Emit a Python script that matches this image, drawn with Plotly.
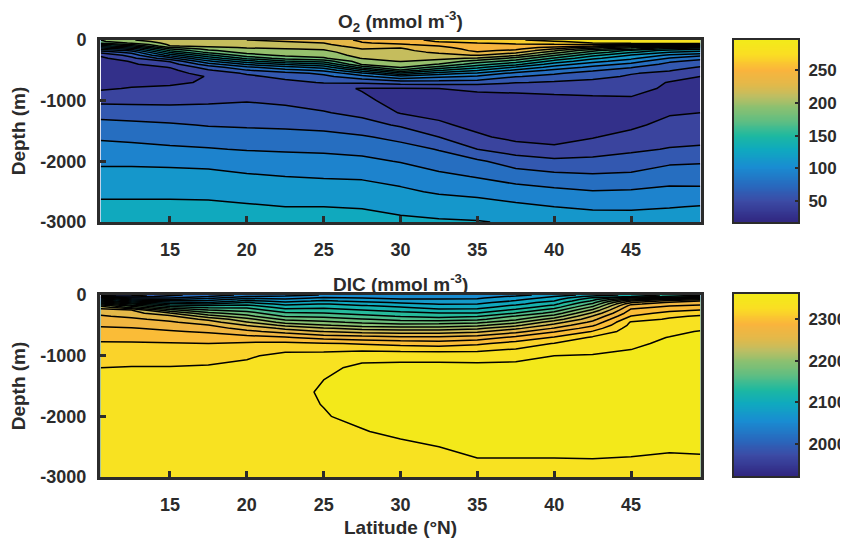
import plotly.graph_objects as go
import numpy as np

latitudes = [10.5, 12.5, 15, 17.5, 20, 22.5, 25, 27.5, 30, 32.5, 35, 37.5, 40, 42.5, 45, 47.5, 49.5]
depths = [0, 25, 50, 75, 100, 125, 150, 175, 200, 250, 300, 350, 400, 450, 500, 550, 600, 700,
          800, 1000, 1200, 1400, 1600, 1800, 2000, 2250, 2500, 2750, 3000]

o2_105 = [188,186,175,150,130,110,90,72,58,38,31,28,26,25,25,25,26,29,33,48,63,74,83,94,100,109,116,124,132]
o2_125 = [204,198,190,172,150,128,108,90,75,58,48,36,33,29,27,26,26,31,36,48,61,73,82,91,100,109,116,124,132]
o2_150 = [214,212,210,208,204,186,170,155,140,110,80,54,44,35.5,31,28,27,32,38,48,59,71,79,89,99,109,116,124,132]
o2_175 = [218,216,214,212,208,202,193,185,176,150,125,100,78,60,50,42,36,37,41,49,60,68,78,87,98,108,115,124,131]
o2_200 = [222,220,218,215,212,206,202,198,194,180,158,131,105,82,68,54,49,44,44,51,60,67,76,85,95,105,113,122,130]
o2_225 = [224,222,220,218,214,209,204,201,198,192,178,152,122,97,79,64,56,48,42,49,57,66,75,84,93,103,112,120,129]
o2_250 = [226,224,222,219,215,210,207,203,199,194,186,161,134,109,90,72,65,53,40,46,53,64,74,83,92,102,110,120,128]
o2_275 = [243,240,238,234,230,226,222,219,217,212,206,198,190,162,128,99,80,55,34,38,48,58,71,81,90,101,110,119,127]
o2_300 = [250,247,242,237,231,223,220,218,216,213,210,206,198,190,168,133,100,59,34,30,34,50,64,76,85,97,106,115,124]
o2_325 = [260,257,252,245,239,235,232,229,225,217,209,199,187,164,139,112,90,61,35,30,30,38,52,68,78,90,101,113,122]
o2_350 = [264,260,256,253,250,247,244,242,238,223,203,181,162,142,121,100,84,60,37,30,28,30,38,52,72,85,98,111,121]
o2_375 = [270,264,259,254,250,246,242,236,227,208,183,163,142,118,100,81,70,53,38,30,27,27,30,44,60,79,93,107,118]
o2_400 = [282,270,263,255,246,234,221,208,196,173,152,131,112,97,82,71,64,50,39,31,27,26,28,39,56,74,90,103,116]
o2_425 = [288,282,273,255,239,212,193,175,164,142,124,109,94,82,71,63,57,47,41,31,27,28,34,45,56,72,87,100,114]
o2_450 = [289,288,280,248,216,190,175,150,140,119,107,94,82,70,62,53,50,44,43,31,28,31,41,49,59,73,88,100,113]
o2_475 = [289,288,282,252,212,170,146,131,120,100,85,72,64,58,53,48,42,34,31,28,33,41,46,53,65,81,89,102,115]
o2_495 = [289,289,283,250,200,160,138,125,115,91,75,64,56,51,46,41,35,32,30,30,35,41,48,54,67,79,90,104,116]

dic_105 = [1955,2000,2065,2097,2125,2157,2187,2218,2237,2251,2260,2267,2272,2278,2283,2287,2290,2300,2307,2316,2325,2330,2333,2336,2338,2340,2341,2342,2342]
dic_125 = [1975,1995,2025,2058,2085,2117,2146,2173,2197,2246,2254,2261,2269,2274,2280,2286,2289,2299,2307,2316,2326,2330,2334,2337,2339,2340,2341,2342,2342]
dic_150 = [2000,2012,2025,2046,2068,2093,2113,2133,2153,2193,2227,2250,2259,2268,2274,2281,2287,2298,2306,2317,2326,2331,2335,2338,2340,2341,2342,2343,2343]
dic_175 = [2015,2025,2040,2056,2070,2086,2106,2126,2139,2167,2191,2215,2240,2254,2266,2274,2282,2295,2305,2318,2327,2333,2336,2339,2341,2342,2343,2344,2344]
dic_200 = [2030,2045,2060,2076,2090,2106,2119,2129,2140,2157,2175,2191,2212,2227,2244,2258,2270,2292,2308,2322,2331,2336,2338,2340,2342,2343,2344,2344,2344]
dic_225 = [2038,2048,2058,2069,2079,2089,2099,2108,2117,2133,2148,2163,2180,2198,2220,2241,2257,2287,2310,2331,2337,2340,2342,2343,2343.5,2344,2344,2344,2344]
dic_250 = [2046,2057,2068,2080,2088,2097,2106,2113,2120,2134,2146,2159,2175,2190,2207,2227,2244,2277,2307,2333,2341,2345,2346,2345.2,2344.5,2344,2344,2344,2344]
dic_275 = [2050,2058,2065,2073,2080,2090,2099,2106,2113,2126,2139,2151,2167,2181,2197,2219,2237,2273,2303,2339,2349,2350,2350,2349,2347,2344.5,2343,2342,2342]
dic_300 = [2048,2054,2060,2068,2075,2083,2091,2099,2106,2119,2130,2144,2158,2175,2194,2214,2234,2269,2298,2339,2350,2351,2352,2351,2349,2347,2343,2341,2341]
dic_325 = [2052,2057,2062,2067,2073,2080,2084,2090,2096,2110,2126,2138,2155,2176,2194,2214,2234,2269,2295,2339,2350,2353,2354,2353,2351,2348,2345,2342,2341]
dic_350 = [2055,2060,2063,2067,2072,2079,2085,2091,2098,2111,2126,2143,2160,2180,2200,2221,2241,2274,2301,2338,2350,2353,2354,2354,2353,2351,2348,2344,2342]
dic_375 = [2060,2067,2074,2081,2087,2095,2100,2108,2115,2130,2146,2167,2181,2200,2220,2241,2258,2290,2313,2340,2350,2352,2354,2354,2353,2351,2348,2344,2342]
dic_400 = [2072,2085,2092,2099,2105,2114,2120,2128,2136,2155,2173,2193,2214,2236,2252,2267,2283,2307,2326,2345,2350,2352,2353,2353,2352,2350,2348,2344,2342]
dic_425 = [2095,2112,2128,2139,2148,2159,2169,2179,2189,2210,2229,2246,2258,2270,2282,2295,2306,2328,2336,2346,2349,2351,2352,2351,2350,2349,2347,2344.5,2343]
dic_450 = [2110,2125,2165,2197,2225,2244,2261,2272,2279,2289,2297,2306,2317,2327,2330,2334,2336,2340,2343,2347,2349,2350,2351,2351,2350,2349,2347,2344,2343]
dic_475 = [2130,2150,2185,2228,2252,2268,2275,2283,2289,2300,2311,2322,2327,2331,2335,2339,2341,2345.5,2347,2349,2350,2351,2351,2350,2349,2347,2346,2343.5,2342.5]
dic_495 = [2140,2165,2205,2243,2265,2273,2281,2287,2294,2306,2319,2327,2331,2335,2338,2342,2346,2347,2348,2349,2350,2350,2350,2349,2348,2347,2346,2344,2343]

o2_columns = [o2_105,o2_125,o2_150,o2_175,o2_200,o2_225,o2_250,o2_275,o2_300,o2_325,o2_350,o2_375,o2_400,o2_425,o2_450,o2_475,o2_495]
dic_columns = [dic_105,dic_125,dic_150,dic_175,dic_200,dic_225,dic_250,dic_275,dic_300,dic_325,dic_350,dic_375,dic_400,dic_425,dic_450,dic_475,dic_495]

lat_ticks = [15, 20, 25, 30, 35, 40, 45]
depth_ticks = [0, -1000, -2000, -3000]
depth_labels = ["0", "-1000", "-2000", "-3000"]
o2_bar_ticks = [50, 100, 150, 200, 250]
dic_bar_ticks = [2000, 2100, 2200, 2300]

OFF = 8  # the page's body margin
W, H = 840, 533
def fx(px):
    return (px - OFF) / W
def fy(py):
    return 1 - (py - OFF) / H

FONT = "Liberation Sans"
INK = "#2b2b2b"
stop_pos = [0, .115, .2, .3, .4, .475, .56, .63, .69, .75, .835, .92, 1]
stop_r = [48, 60, 40, 25, 15, 30, 100, 140, 190, 225, 250, 250, 242]
stop_g = [38, 75, 105, 140, 170, 185, 190, 192, 190, 185, 180, 222, 235]
stop_b = [128, 165, 190, 210, 190, 160, 128, 112, 98, 75, 60, 35, 25]
parula = [[p, f"rgb({r},{g},{b})"] for p, r, g, b in zip(stop_pos, stop_r, stop_g, stop_b)]

def band_scale(zmin, zmax, start, size, end):
    # plotly spreads a filled contour's scale over the levels, not over zmin..zmax
    low = start - size / 2
    high = end + size / 2
    out = []
    for g in np.linspace(0, 1, 60):
        f = (low + g * (high - low) - zmin) / (zmax - zmin)
        r = np.interp(f, stop_pos, stop_r)
        gr = np.interp(f, stop_pos, stop_g)
        b = np.interp(f, stop_pos, stop_b)
        out.append([float(g), f"rgb({r:.0f},{gr:.0f},{b:.0f})"])
    return out

yvals = [-d for d in depths]
fig = go.Figure()

def panel(cols, zmin, zmax, start, size, end, xa, ya):
    z = np.array(cols).T
    fig.add_trace(go.Contour(x=latitudes, y=yvals, z=z, xaxis=xa, yaxis=ya, colorscale=band_scale(zmin, zmax, start, size, end),
                             zauto=False, zmin=zmin, zmax=zmax, showscale=False, hoverinfo="skip",
                             contours=dict(start=start, end=end, size=size, coloring="fill"),
                             line=dict(color="black", width=1.5, smoothing=0)))

def bar(zmin, zmax, xa, ya):
    steps = np.linspace(zmin, zmax, 200)
    fig.add_trace(go.Heatmap(x=[0, 1], y=steps, z=np.column_stack([steps, steps]), xaxis=xa, yaxis=ya, colorscale=parula,
                             zmin=zmin, zmax=zmax, showscale=False, hoverinfo="skip"))

panel(o2_columns, 18, 296, 35, 17, 273, "x", "y")
panel(dic_columns, 1923, 2360, 1945, 20, 2345, "x2", "y2")
bar(18, 296, "x3", "y3")
bar(1923, 2360, "x4", "y4")

tickfont = dict(family=FONT, size=18, color=INK, weight="bold")
barfont = dict(family=FONT, size=17, color=INK, weight="bold")
xaxis_style = dict(range=[10.45, 49.55], tickmode="array", tickvals=lat_ticks, ticks="inside", ticklen=6, tickwidth=3,
                   tickcolor=INK, showline=True, linewidth=3, linecolor=INK, mirror=True, showgrid=False, zeroline=False,
                   ticklabelstandoff=9, tickfont=tickfont, automargin=False)
yaxis_style = dict(range=[-3000, 0], tickmode="array", tickvals=depth_ticks, ticktext=depth_labels, ticks="inside", ticklen=6,
                   tickwidth=3, tickcolor=INK, showline=True, linewidth=3, linecolor=INK, mirror=True, showgrid=False,
                   zeroline=False, ticklabelstandoff=7, tickfont=tickfont, automargin=False,
                   title=dict(text="<b>Depth (m)</b>", standoff=11, font=dict(family=FONT, size=19, color=INK)))
bar_x = dict(range=[0, 1], visible=True, showticklabels=False, ticks="", showline=True, linewidth=2, linecolor=INK, mirror=True,
             showgrid=False, zeroline=False, domain=[fx(734), fx(798)], automargin=False)
bar_y = dict(side="right", tickmode="array", ticks="inside", ticklen=3, tickwidth=2, tickcolor=INK, showline=True, linewidth=2,
             linecolor=INK, mirror=True, showgrid=False, zeroline=False, ticklabelstandoff=5, tickfont=barfont, automargin=False)

dom_x = [fx(100), fx(701)]
fig.update_layout(width=W, height=H, margin=dict(l=0, r=0, t=0, b=0), paper_bgcolor="white", plot_bgcolor="white",
                  showlegend=False,
                  xaxis=dict(xaxis_style, domain=dom_x, anchor="y"),
                  yaxis=dict(yaxis_style, domain=[fy(222), fy(40)], anchor="x"),
                  xaxis2=dict(xaxis_style, domain=dom_x, anchor="y2"),
                  yaxis2=dict(yaxis_style, domain=[fy(477), fy(295)], anchor="x2"),
                  xaxis3=dict(bar_x, anchor="y3"),
                  yaxis3=dict(bar_y, range=[18, 296], tickvals=o2_bar_ticks, domain=[fy(222), fy(40)], anchor="x3"),
                  xaxis4=dict(bar_x, anchor="y4"),
                  yaxis4=dict(bar_y, range=[1923, 2360], tickvals=dic_bar_ticks, domain=[fy(476), fy(294)], anchor="x4"))

notes = [("<b>O<sub>2</sub> (mmol m<sup>-3</sup>)</b>", 400, 21), ("<b>DIC (mmol m<sup>-3</sup>)</b>", 400, 283),
         ("<b>Latitude (°N)</b>", 400, 527)]
for text, px, py in notes:
    fig.add_annotation(text=text, x=fx(px), y=fy(py), xref="paper", yref="paper", showarrow=False, xanchor="center",
                       yanchor="middle", font=dict(family=FONT, size=19, color=INK))

fig.write_html("out.html")
